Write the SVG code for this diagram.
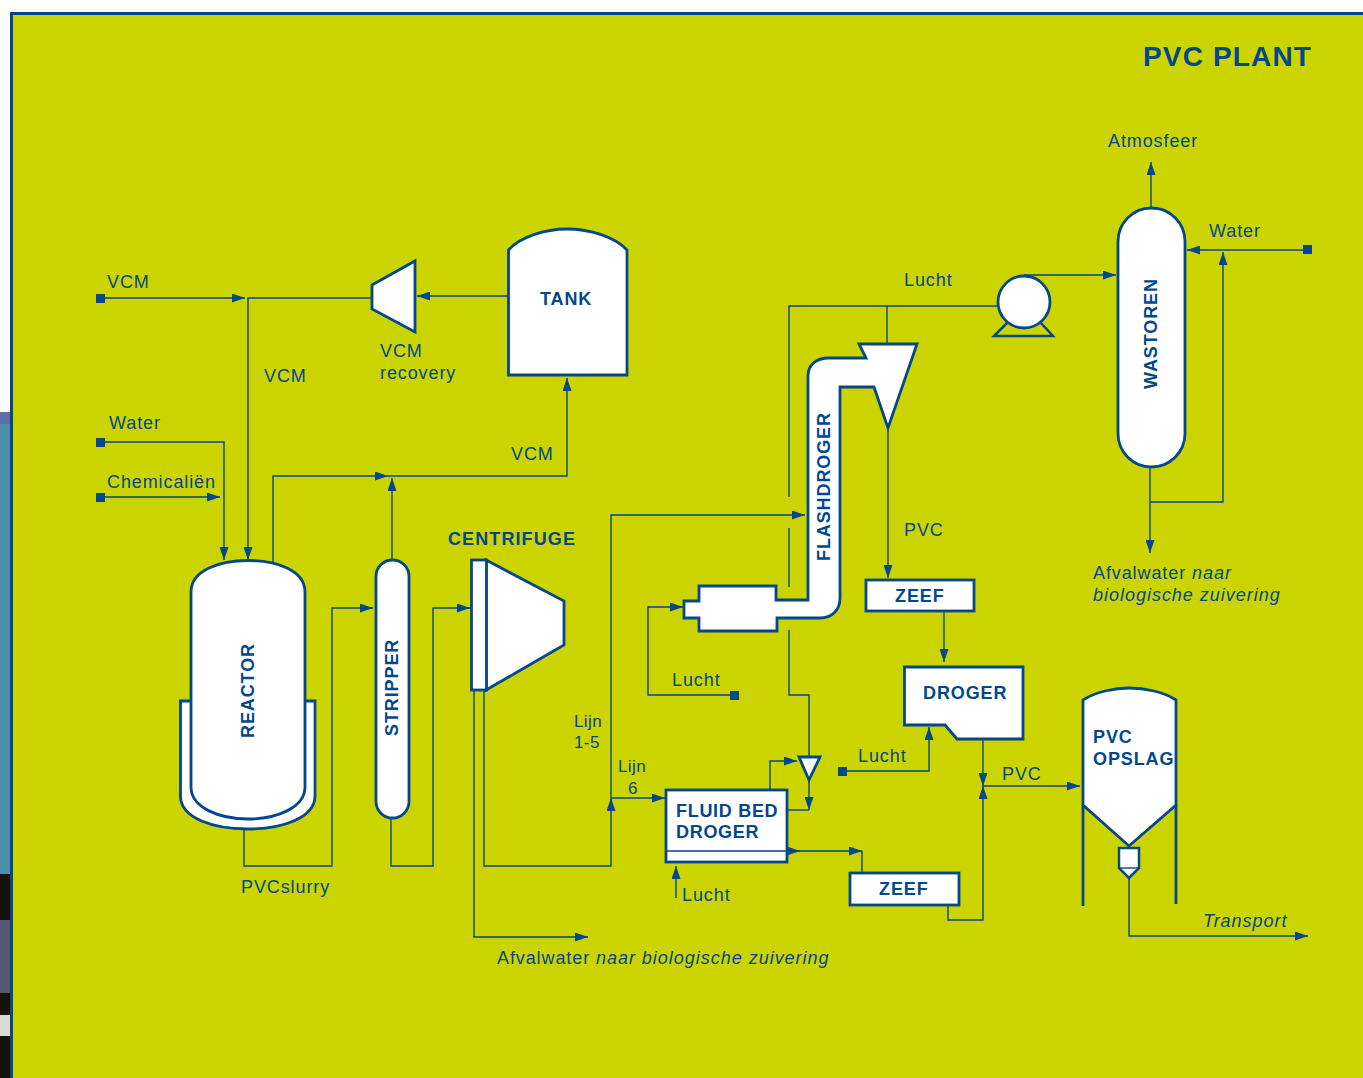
<svg xmlns="http://www.w3.org/2000/svg" width="1363" height="1078" viewBox="0 0 1363 1078">
<style>
.eq{fill:#fff;stroke:#03478c;stroke-width:2.800;stroke-linejoin:miter}
.eq2{fill:#fff;stroke:#03478c;stroke-width:2.500;stroke-linejoin:miter}
.ln{fill:none;stroke:#03478c;stroke-width:1.400}
.ar{fill:none;stroke:#03478c;stroke-width:1.400;marker-end:url(#a)}
.sq{fill:#03478c}
text{font-family:"Liberation Sans",Arial,sans-serif;fill:#03478c}
.t{font-size:18px;letter-spacing:.9px}
.i{font-style:italic;letter-spacing:.98px}
.b{font-size:18px;font-weight:700;letter-spacing:.9px}
.l{font-size:17px;letter-spacing:.4px}
</style>
<defs>
<marker id="a" markerUnits="userSpaceOnUse" markerWidth="13" markerHeight="9" refX="13" refY="4.500" orient="auto"><path d="M0 0L13 4.500L0 9Z" fill="#03478c"/></marker>
</defs>
<rect width="1363" height="1078" fill="#fff"/>
<rect x="0" y="412" width="11" height="12" fill="#5d6fa8"/>
<rect x="0" y="424" width="11" height="450" fill="#4d8fa8"/>
<rect x="0" y="874" width="11" height="204" fill="#15120f"/>
<rect x="0" y="920" width="11" height="73" fill="#555a70"/>
<rect x="0" y="1015" width="11" height="21" fill="#d8dcd8"/>
<rect x="11.500" y="13.500" width="1353" height="1066" fill="#ccd400" stroke="#03478c" stroke-width="3"/>
<text x="1143" y="66" font-size="28" font-weight="700" letter-spacing="1.150">PVC PLANT</text>

<g id="connectors">
<path class="ar" d="M100 298H245"/>
<path class="ar" d="M372 298H248V560"/>
<path class="ar" d="M100 442H224V560"/>
<path class="ar" d="M100 497H220"/>
<path class="ar" d="M273 565V476H388"/>
<path class="ar" d="M388 476H567V378"/>
<path class="ar" d="M392 560V478"/>
<path class="ar" d="M244 829V866H332V608H373"/>
<path class="ar" d="M391 818V866H433V608H470"/>
<path class="ar" d="M508 296H417"/>
<path class="ar" d="M474 690V937H588"/>
<path class="ar" d="M484 690V866H611V798"/>
<path class="ar" d="M611 798V515H805"/>
<path class="ar" d="M611 798H665"/>
<path class="ln" d="M998 306H789V497M789 528V587"/>
<path class="ln" d="M887 306V343"/>
<path class="ln" d="M789 630V695H809V757"/>
<path class="ar" d="M735 695H648V607H683"/>
<path class="ar" d="M676 898V866"/>
<path class="ar" d="M770 790V761H797"/>
<path class="ar" d="M809 780V810"/>
<path class="ln" d="M787 810H809"/>
<path class="ar" d="M787 851H800"/>
<path class="ar" d="M795 851H862"/>
<path class="ln" d="M862 851V873"/>
<path class="ar" d="M888 428V578"/>
<path class="ar" d="M944 611V662"/>
<path class="ar" d="M842 771H929V727"/>
<path class="ar" d="M983 739V786"/>
<path class="ar" d="M948 905V920H983V786"/>
<path class="ar" d="M983 786H1080"/>
<path class="ar" d="M1129 878V936H1308"/>
<path class="ar" d="M1024 275H1116"/>
<path class="ar" d="M1151 208V162"/>
<path class="ar" d="M1307 250H1187"/>
<path class="ar" d="M1150 467V553"/>
<path class="ar" d="M1150 502H1223V252"/>
<rect class="sq" x="96" y="294" width="9" height="9"/>
<rect class="sq" x="96" y="438" width="9" height="9"/>
<rect class="sq" x="96" y="493" width="9" height="9"/>
<rect class="sq" x="730" y="691" width="9" height="9"/>
<rect class="sq" x="838" y="767" width="9" height="9"/>
<rect class="sq" x="1303" y="245" width="9" height="9"/>
</g>

<g id="reactor">
<path class="eq" d="M180.500 701H315V796C315 818 282 829 248 829C213 829 180.500 818 180.500 796Z"/>
<path class="eq" d="M191 592C191 570 220 560.500 248 560.500C276 560.500 305 570 305 592V787C305 808 276 819 248 819C220 819 191 808 191 787Z"/>
<text class="b" transform="translate(254 738) rotate(-90)">REACTOR</text>
</g>
<g id="stripper">
<rect class="eq" x="376" y="560" width="33" height="258" rx="16.500"/>
<text class="b" transform="translate(398 736) rotate(-90)">STRIPPER</text>
</g>
<g id="centrifuge">
<path class="eq" d="M486 560L564 601V645L486 690Z"/>
<rect class="eq" x="471.500" y="560" width="15" height="130"/>
<text class="b" x="448" y="545" style="letter-spacing:1.100px">CENTRIFUGE</text>
</g>
<g id="vcm-recovery">
<path class="eq" d="M372 285L415 261V332L372 309Z"/>
<text class="t" x="380" y="357">VCM</text>
<text class="t" x="380" y="379">recovery</text>
</g>
<g id="tank">
<path class="eq" d="M508.500 250C520 237 545 229 567 229C590 229 615 237 627 250V375H508.500Z"/>
<text class="b" x="540" y="305">TANK</text>
</g>
<g id="flashdroger">
<path class="eq" d="M684 601H699V586H776V600H808V376C808 365 816 358 829 358H866L859 344H917L888 428L874 387H840V598C840 610 832 618 820 618H777V631H699V618H684Z"/>
<text class="b" transform="translate(830 561) rotate(-90)">FLASHDROGER</text>
</g>
<g id="zeef-1">
<rect class="eq" x="866" y="580" width="108" height="31"/>
<text class="b" x="895" y="602">ZEEF</text>
</g>
<g id="droger">
<path class="eq" d="M904.500 667H1023V739H957L945 725H904.500Z"/>
<text class="b" x="923" y="699">DROGER</text>
</g>
<g id="fluid-bed-droger">
<rect class="eq" x="666" y="790" width="121" height="72"/>
<path class="ln" d="M666 851H787"/>
<text class="b" x="676" y="817" style="letter-spacing:.7px">FLUID BED</text>
<text class="b" x="676" y="838" style="letter-spacing:.7px">DROGER</text>
</g>
<g id="separator">
<path class="eq" d="M799 757H820L809 780Z"/>
</g>
<g id="zeef-2">
<rect class="eq" x="850" y="873" width="109" height="32"/>
<text class="b" x="879" y="895">ZEEF</text>
</g>
<g id="pvc-opslag">
<path class="eq" d="M1083 700C1095 692 1115 688 1129 688C1145 688 1164 692 1176 700V805L1129 846L1083 805Z"/>
<path class="ln" style="stroke-width:2.800" d="M1083 805V906M1176 805V904"/>
<path class="eq2" d="M1119 848H1139V868L1129 878L1119 868Z"/>
<path class="ln" d="M1119 868H1139"/>
<text class="b" x="1093" y="743">PVC</text>
<text class="b" x="1093" y="765">OPSLAG</text>
</g>
<g id="pomp">
<path class="eq2" style="fill:none" d="M1008 322L994 336H1053L1040 322"/>
<circle class="eq" cx="1024" cy="302" r="26"/>
</g>
<g id="wastoren">
<rect class="eq" x="1118" y="208" width="67" height="259" rx="33.500"/>
<text class="b" transform="translate(1157 389) rotate(-90)">WASTOREN</text>
</g>

<g id="labels">
<text class="t" x="107" y="288">VCM</text>
<text class="t" x="264" y="382">VCM</text>
<text class="t" x="109" y="429">Water</text>
<text class="t" x="107" y="488">Chemicaliën</text>
<text class="t" x="511" y="460">VCM</text>
<text class="t" x="241" y="893">PVCslurry</text>
<text class="t" x="904" y="286">Lucht</text>
<text class="t" x="904" y="536">PVC</text>
<text class="t" x="672" y="686">Lucht</text>
<text class="t" x="858" y="762">Lucht</text>
<text class="t" x="682" y="901">Lucht</text>
<text class="t" x="1002" y="780">PVC</text>
<text class="t" x="1108" y="147">Atmosfeer</text>
<text class="t" x="1209" y="237">Water</text>
<text class="t" x="1093" y="579">Afvalwater <tspan class="i">naar</tspan></text>
<text class="t i" x="1093" y="601">biologische zuivering</text>
<text class="t" x="497" y="964">Afvalwater <tspan class="i">naar biologische zuivering</tspan></text>
<text class="t i" x="1203" y="927">Transport</text>
<text class="l" x="574" y="727">Lijn</text>
<text class="l" x="574" y="748">1-5</text>
<text class="l" x="618" y="772">Lijn</text>
<text class="l" x="628" y="794">6</text>
</g>
</svg>
